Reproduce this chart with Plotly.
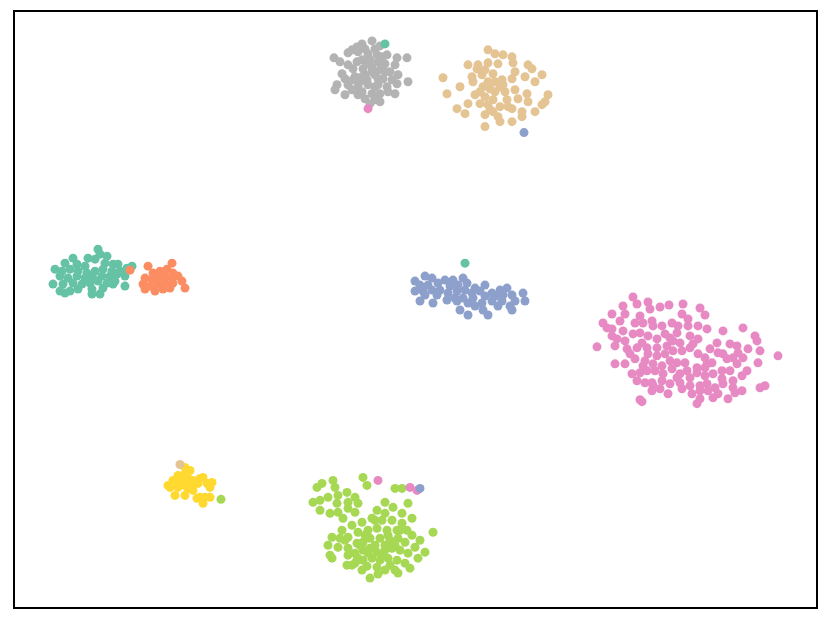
import plotly.graph_objects as go

## embedding coordinates per class (2-d projection, screen-like units)
teal_x = [98, 100, 107, 88, 95, 73, 65, 77, 85, 105, 113, 118, 55, 62, 70, 78, 87, 95, 103, 112,
          120, 127, 132, 60, 68, 77, 85, 93, 102, 110, 117, 125, 53, 63, 73, 82, 90, 98, 107, 115,
          60, 70, 78, 92, 103, 113, 125, 92, 100, 65]
teal_y = [248, 253, 255, 257, 258, 257, 262, 263, 265, 262, 263, 263, 268, 270, 268, 270, 272, 270, 268, 270,
          270, 267, 265, 275, 277, 275, 277, 277, 275, 275, 273, 275, 283, 283, 282, 283, 282, 280, 282, 280,
          290, 290, 288, 288, 287, 283, 285, 293, 293, 292]

orange_x = [148, 172, 153, 160, 167, 173, 145, 152, 158, 165, 172, 178, 143, 150, 158, 165, 173, 182,
            145, 155, 163, 170, 185]
orange_y = [265, 262, 272, 270, 268, 272, 277, 278, 277, 275, 277, 275, 283, 285, 283, 282, 282, 280,
            288, 290, 288, 287, 287]

blue_x = [415, 425, 432, 420, 428, 438, 445, 453, 463, 467, 458, 450, 475, 485, 415, 423, 432, 440,
          448, 457, 465, 472, 480, 492, 500, 507, 425, 437, 447, 455, 463, 473, 485, 495, 503, 512,
          523, 420, 433, 457, 468, 482, 492, 502, 515, 525, 460, 468, 483, 488, 498, 510, 512, 475]
blue_y = [280, 275, 277, 284, 284, 282, 279, 279, 277, 282, 284, 285, 287, 284, 290, 290, 289, 289,
          292, 290, 289, 292, 290, 292, 289, 287, 294, 294, 299, 297, 297, 297, 295, 295, 294, 294,
          292, 300, 302, 300, 302, 302, 300, 300, 300, 300, 309, 314, 309, 314, 305, 305, 309, 305]

pink_x = [633, 637, 648, 650, 623, 625, 660, 669, 683, 682, 700, 705, 612, 603, 607, 635, 643, 652,
          653, 662, 672, 678, 688, 688, 698, 707, 723, 743, 755, 757, 597, 612, 617, 623, 625, 633,
          640, 642, 648, 657, 665, 670, 677, 680, 690, 690, 698, 717, 730, 737, 748, 760, 778, 615,
          627, 637, 647, 648, 657, 665, 673, 682, 698, 705, 718, 723, 727, 733, 743, 758, 615, 625,
          635, 645, 653, 662, 670, 677, 685, 697, 707, 712, 722, 730, 737, 747, 632, 640, 647, 655,
          663, 672, 680, 690, 697, 705, 713, 722, 733, 742, 637, 645, 653, 662, 670, 682, 690, 700,
          707, 715, 723, 733, 742, 760, 765, 640, 652, 660, 668, 692, 700, 708, 713, 718, 728, 735,
          697, 700, 680, 687, 677, 705, 657, 667, 630, 643, 693, 710, 738, 673, 640, 612, 620, 652, 642]
pink_y = [296, 303, 301, 308, 305, 313, 306, 304, 303, 313, 307, 314, 313, 322, 327, 322, 322, 320,
          325, 325, 322, 325, 318, 325, 325, 328, 330, 327, 335, 340, 346, 335, 338, 330, 340, 333,
          332, 342, 335, 338, 333, 337, 332, 342, 335, 347, 338, 342, 343, 345, 348, 350, 355, 345,
          348, 347, 347, 353, 355, 353, 350, 350, 353, 357, 352, 353, 358, 357, 357, 362, 363, 363,
          358, 360, 363, 365, 360, 362, 362, 367, 363, 362, 370, 370, 363, 370, 373, 372, 370, 370,
          373, 368, 373, 377, 372, 375, 373, 378, 380, 375, 380, 382, 385, 380, 383, 388, 385, 385,
          383, 387, 383, 387, 390, 387, 385, 399, 390, 388, 393, 393, 390, 390, 397, 393, 398, 392,
          403, 398, 382, 370, 377, 367, 347, 345, 353, 365, 343, 348, 352, 340, 315, 328, 320, 382, 401]

green_x = [363, 333, 322, 317, 335, 367, 395, 402, 313, 320, 328, 338, 347, 355, 348, 358, 337, 320,
           330, 338, 348, 355, 343, 385, 408, 393, 377, 385, 402, 412, 372, 382, 392, 402, 332, 340,
           348, 358, 368, 377, 387, 397, 407, 412, 420, 433, 328, 338, 348, 357, 363, 370, 380, 390,
           398, 405, 415, 425, 330, 332, 348, 355, 363, 370, 377, 385, 392, 400, 408, 418, 347, 355,
           363, 372, 380, 388, 397, 405, 362, 377, 385, 395, 398, 410, 370, 382, 368, 358,
           352, 362, 375, 365, 385, 395, 375, 360, 345, 352, 367, 390, 400, 342, 388, 357, 378]
green_y = [477, 480, 483, 487, 487, 485, 488, 488, 502, 500, 497, 495, 492, 497, 502, 503, 503, 510,
           513, 512, 508, 512, 518, 502, 503, 507, 510, 513, 513, 518, 518, 520, 520, 523, 537, 538,
           537, 532, 530, 528, 530, 530, 530, 535, 540, 532, 545, 547, 548, 543, 542, 538, 538, 540,
           538, 542, 547, 552, 555, 558, 555, 553, 550, 548, 552, 550, 548, 550, 553, 558, 565, 563,
           560, 558, 560, 558, 560, 563, 570, 567, 570, 570, 573, 568, 578, 555, 553, 558,
           525, 522, 520, 535, 545, 545, 545, 545, 540, 565, 566, 565, 530, 530, 535, 560, 574]

yellow_x = [185, 190, 178, 183, 173, 180, 188, 193, 200, 203, 170, 178, 185, 192, 198, 207, 212, 210,
            175, 185, 193, 200, 205, 210, 197, 203, 168, 188]
yellow_y = [467, 470, 475, 475, 480, 482, 478, 480, 478, 477, 487, 487, 485, 485, 483, 483, 482, 487,
            495, 495, 490, 497, 497, 497, 498, 503, 485, 488]

tan_x = [488, 495, 503, 512, 513, 468, 478, 488, 498, 477, 485, 515, 528, 532, 542, 443, 460, 447,
         472, 482, 493, 473, 488, 502, 512, 525, 535, 500, 505, 483, 495, 515, 527, 548, 475, 485,
         493, 507, 518, 528, 542, 545, 468, 480, 488, 500, 512, 522, 535, 457, 465, 493, 485, 498,
         512, 522, 485, 500, 503, 490, 495, 480, 508, 490]
tan_y = [48, 52, 53, 55, 61, 63, 63, 61, 62, 67, 68, 70, 63, 67, 73, 76, 85, 92,
         75, 73, 72, 80, 80, 78, 77, 75, 80, 85, 90, 85, 90, 88, 92, 93, 93, 95,
         98, 98, 97, 100, 103, 100, 102, 102, 103, 105, 107, 110, 110, 107, 112, 110, 113, 115,
         120, 115, 125, 120, 83, 87, 80, 90, 105, 108]

gray_x = [372, 362, 357, 352, 348, 365, 375, 380, 358, 368, 377, 387, 397, 407, 334, 348, 362, 370,
          378, 385, 395, 342, 353, 363, 372, 380, 390, 398, 408, 355, 365, 375, 383, 392, 337, 335,
          348, 358, 368, 378, 387, 397, 345, 362, 372, 380, 395, 365, 375, 370, 380, 358, 353, 367,
          378, 372, 360, 345, 388, 352, 340, 357, 367, 382, 385, 375, 362]
gray_y = [39, 42, 45, 48, 51, 47, 47, 44, 50, 52, 53, 53, 56, 56, 56, 63, 58, 58,
          60, 62, 63, 72, 67, 67, 65, 68, 70, 73, 80, 75, 73, 73, 77, 78, 83, 88,
          83, 85, 83, 83, 85, 82, 93, 90, 92, 92, 92, 97, 98, 102, 100, 93, 78, 78,
          77, 70, 80, 77, 90, 88, 60, 60, 62, 55, 70, 85, 75]

## points that landed in another class's cluster
stray_x = [385, 368, 524, 130, 465, 180, 221, 378, 410, 417, 420]
stray_y = [42, 107, 131, 269, 262, 464, 499, 480, 487, 490, 488]
stray_class = ["teal", "pink", "blue", "orange", "teal", "tan", "green", "pink", "pink", "pink", "blue"]

colors = {"teal": "#66c2a5", "orange": "#fc8d62", "blue": "#8da0cb", "pink": "#e78ac3",
          "green": "#a6d854", "yellow": "#ffd92f", "tan": "#e5c494", "gray": "#b3b3b3"}

groups = [("teal", teal_x, teal_y), ("orange", orange_x, orange_y), ("blue", blue_x, blue_y),
          ("pink", pink_x, pink_y), ("green", green_x, green_y), ("yellow", yellow_x, yellow_y),
          ("tan", tan_x, tan_y), ("gray", gray_x, gray_y)]

fig = go.Figure()
for name, xs, ys in groups:
    fig.add_trace(go.Scatter(x=xs, y=ys, mode="markers", name=name,
                             marker=dict(color=colors[name], size=9, line=dict(width=0))))
fig.add_trace(go.Scatter(x=stray_x, y=stray_y, mode="markers",
                         marker=dict(color=[colors[c] for c in stray_class], size=9, line=dict(width=0))))

axis_style = dict(showgrid=False, zeroline=False, showticklabels=False, ticks="",
                  showline=True, mirror=True, linecolor="black", linewidth=1.5)
fig.update_xaxes(range=[15, 816], **axis_style)
fig.update_yaxes(range=[607, 10], **axis_style)
# page body adds an 8px offset, so the figure is shrunk to fit the window
fig.update_layout(width=823, height=609, showlegend=False,
                  margin=dict(l=7, r=15, t=2, b=10),
                  plot_bgcolor="white", paper_bgcolor="white")

fig.write_html("out.html")
